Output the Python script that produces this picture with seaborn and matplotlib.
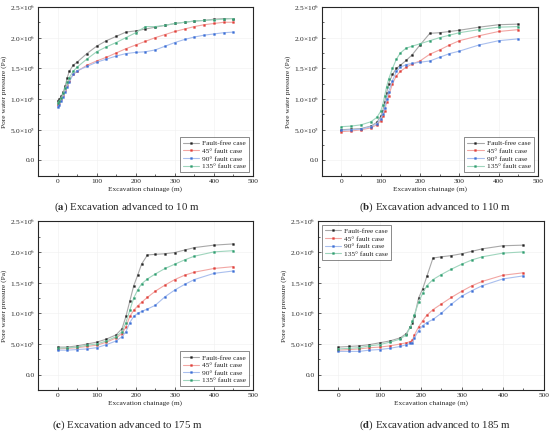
import numpy as np
import pandas as pd
import seaborn as sns
import matplotlib.pyplot as plt
from matplotlib.ticker import MultipleLocator, FuncFormatter

# data, pore pressure in 1e6 Pa
cases = ["Fault-free case", "45° fault case", "90° fault case", "135° fault case"]
colors = ["#222222", "#e0403a", "#3c6fd6", "#2f9e70"]
line_colors = ["#a8a8a8", "#f2a6a3", "#a9bfee", "#9fd5bd"]

x_a = [0, 5, 10, 15, 20, 25, 30, 40, 50, 75, 100, 125, 150, 175, 200, 225, 250, 275, 300, 325, 350, 375, 400, 425, 450]
ff_a = [0.97, 1.0, 1.05, 1.12, 1.22, 1.35, 1.45, 1.55, 1.6, 1.74, 1.86, 1.95, 2.02, 2.09, 2.11, 2.14, 2.17, 2.2, 2.23, 2.25, 2.27, 2.28, 2.3, 2.31, 2.31]
f45_a = [0.9, 0.94, 1.0, 1.07, 1.15, 1.23, 1.3, 1.4, 1.45, 1.55, 1.62, 1.68, 1.75, 1.82, 1.88, 1.94, 2.0, 2.05, 2.1, 2.14, 2.18, 2.21, 2.23, 2.25, 2.25]
f90_a = [0.87, 0.91, 0.97, 1.04, 1.12, 1.2, 1.28, 1.4, 1.46, 1.53, 1.6, 1.65, 1.7, 1.74, 1.76, 1.77, 1.8, 1.86, 1.92, 1.97, 2.01, 2.04, 2.06, 2.08, 2.09]
f135_a = [0.93, 0.97, 1.02, 1.1, 1.18, 1.27, 1.35, 1.45, 1.52, 1.65, 1.77, 1.85, 1.92, 2.0, 2.08, 2.18, 2.18, 2.2, 2.23, 2.25, 2.27, 2.28, 2.29, 2.3, 2.31]

x_b = [0, 25, 50, 75, 90, 100, 105, 110, 115, 120, 130, 140, 150, 165, 180, 200, 225, 250, 275, 300, 350, 400, 450]
ff_b = [0.5, 0.51, 0.52, 0.56, 0.62, 0.72, 0.8, 0.95, 1.1, 1.25, 1.4, 1.5, 1.55, 1.63, 1.72, 1.88, 2.07, 2.08, 2.1, 2.12, 2.17, 2.21, 2.22]
f45_b = [0.47, 0.48, 0.5, 0.53, 0.58, 0.65, 0.72, 0.8, 0.95, 1.05, 1.25, 1.38, 1.45, 1.52, 1.57, 1.62, 1.73, 1.8, 1.88, 1.95, 2.03, 2.1, 2.13]
f90_b = [0.49, 0.5, 0.51, 0.55, 0.6, 0.68, 0.75, 0.85, 1.0, 1.12, 1.3, 1.45, 1.52, 1.56, 1.58, 1.6, 1.62, 1.68, 1.74, 1.78, 1.88, 1.95, 1.98]
f135_b = [0.55, 0.56, 0.58, 0.63, 0.7, 0.8, 0.9, 1.05, 1.2, 1.32, 1.5, 1.65, 1.75, 1.83, 1.86, 1.9, 1.95, 2.0, 2.04, 2.08, 2.13, 2.17, 2.18]

x_c = [0, 25, 50, 75, 100, 125, 150, 165, 175, 185, 195, 205, 215, 230, 250, 275, 300, 325, 350, 400, 450]
ff_c = [0.45, 0.45, 0.47, 0.5, 0.53, 0.58, 0.65, 0.75, 0.95, 1.2, 1.45, 1.62, 1.8, 1.95, 1.96, 1.97, 1.99, 2.03, 2.07, 2.11, 2.13]
f45_c = [0.42, 0.43, 0.44, 0.46, 0.48, 0.53, 0.6, 0.67, 0.78, 0.95, 1.05, 1.12, 1.18, 1.26, 1.36, 1.46, 1.55, 1.62, 1.67, 1.73, 1.76]
f90_c = [0.4, 0.4, 0.41, 0.42, 0.44, 0.49, 0.55, 0.62, 0.7, 0.85, 0.95, 1.0, 1.03, 1.07, 1.13, 1.27, 1.38, 1.47, 1.55, 1.65, 1.69]
f135_c = [0.43, 0.44, 0.45, 0.48, 0.5, 0.55, 0.62, 0.7, 0.85, 1.05, 1.25, 1.38, 1.48, 1.56, 1.64, 1.73, 1.8, 1.87, 1.93, 2.0, 2.02]

x_d = [0, 25, 50, 75, 100, 125, 150, 165, 175, 180, 185, 195, 205, 215, 230, 250, 275, 300, 325, 350, 400, 450]
ff_d = [0.45, 0.46, 0.47, 0.49, 0.52, 0.55, 0.6, 0.67, 0.78, 0.85, 0.95, 1.25, 1.4, 1.6, 1.9, 1.92, 1.94, 1.97, 2.01, 2.05, 2.1, 2.11]
f45_d = [0.4, 0.41, 0.42, 0.44, 0.45, 0.47, 0.5, 0.52, 0.54, 0.56, 0.65, 0.78, 0.88, 0.97, 1.06, 1.15, 1.26, 1.36, 1.45, 1.52, 1.62, 1.66]
f90_d = [0.38, 0.38, 0.38, 0.4, 0.41, 0.43, 0.46, 0.49, 0.51, 0.52, 0.6, 0.72, 0.8, 0.85, 0.9, 1.0, 1.15, 1.28, 1.37, 1.45, 1.56, 1.61]
f135_d = [0.42, 0.43, 0.44, 0.47, 0.49, 0.53, 0.58, 0.65, 0.78, 0.88, 0.98, 1.18, 1.33, 1.45, 1.55, 1.63, 1.72, 1.8, 1.87, 1.92, 1.98, 2.0]

captions = ["Excavation advanced to 10 m", "Excavation advanced to 110 m",
            "Excavation advanced to 175 m", "Excavation advanced to 185 m"]
letters = ["a", "b", "c", "d"]

sns.set_style("ticks")
plt.rcParams["font.family"] = ["Liberation Serif", "DejaVu Serif"]
plt.rcParams["mathtext.fontset"] = "stix"


def sci_fmt(v, pos):
    if abs(v) < 1e-9:
        return "0.0"
    if v < 1e6 - 1:
        return "%.1f×10$^5$" % (v / 1e5)
    return "%.1f×10$^6$" % (v / 1e6)


panels = [
    (x_a, [ff_a, f45_a, f90_a, f135_a], [0.069, 0.593, 0.391, 0.391], "lower right"),
    (x_b, [ff_b, f45_b, f90_b, f135_b], [0.585, 0.593, 0.393, 0.391], "lower right"),
    (x_c, [ff_c, f45_c, f90_c, f135_c], [0.069, 0.097, 0.391, 0.391], "lower right"),
    (x_d, [ff_d, f45_d, f90_d, f135_d], [0.578, 0.097, 0.411, 0.391], "upper left"),
]
cap_pos = [(0.231, 0.505), (0.79, 0.505), (0.231, 0.0), (0.79, 0.0)]

fig = plt.figure(figsize=(5.5, 4.32), dpi=100)

for i, (xs, ys, rect, loc) in enumerate(panels):
    ax = fig.add_axes(rect)
    rows = []
    for name, vals in zip(cases, ys):
        for xv, yv in zip(xs, vals):
            rows.append({"chainage": xv, "pressure": yv * 1e6, "case": name})
    df = pd.DataFrame(rows)
    for name, col, lc in zip(cases, colors, line_colors):
        sub = df[df["case"] == name]
        sns.lineplot(data=sub, x="chainage", y="pressure", ax=ax, color=lc,
                     lw=0.8, marker="s", ms=1.3, mec=col, mfc=col, mew=0.3,
                     label=name, estimator=None, sort=False)
    ax.set_xlim(-50, 500)
    ax.set_ylim(-0.25e6, 2.5e6)
    ax.xaxis.set_major_locator(MultipleLocator(100))
    ax.xaxis.set_minor_locator(MultipleLocator(50))
    ax.yaxis.set_major_locator(MultipleLocator(0.5e6))
    ax.yaxis.set_minor_locator(MultipleLocator(0.25e6))
    ax.yaxis.set_major_formatter(FuncFormatter(sci_fmt))
    ax.tick_params(which="both", direction="in", labelsize=5.3, width=0.5, pad=2)
    ax.tick_params(which="major", length=2.5)
    ax.tick_params(which="minor", length=1.5)
    ax.grid(True, color="#efefef", lw=0.4)
    for sp in ax.spines.values():
        sp.set_linewidth(0.8)
    ax.set_xlabel("Excavation chainage (m)", fontsize=5.3, labelpad=2)
    ax.set_ylabel("Pore water pressure (Pa)", fontsize=5.3, labelpad=2)
    leg = ax.legend(loc=loc, fontsize=5.3, frameon=True, fancybox=False,
                    edgecolor="#333333", handlelength=2.2, borderpad=0.4,
                    labelspacing=0.2, handletextpad=0.5)
    leg.get_frame().set_linewidth(0.5)
    cx, cy = cap_pos[i]
    fig.text(cx, cy, "(" + r"$\mathbf{" + letters[i] + "}$" + ") " + captions[i],
             ha="center", va="bottom", fontsize=7.8)

fig.savefig("out.png", dpi=100)
